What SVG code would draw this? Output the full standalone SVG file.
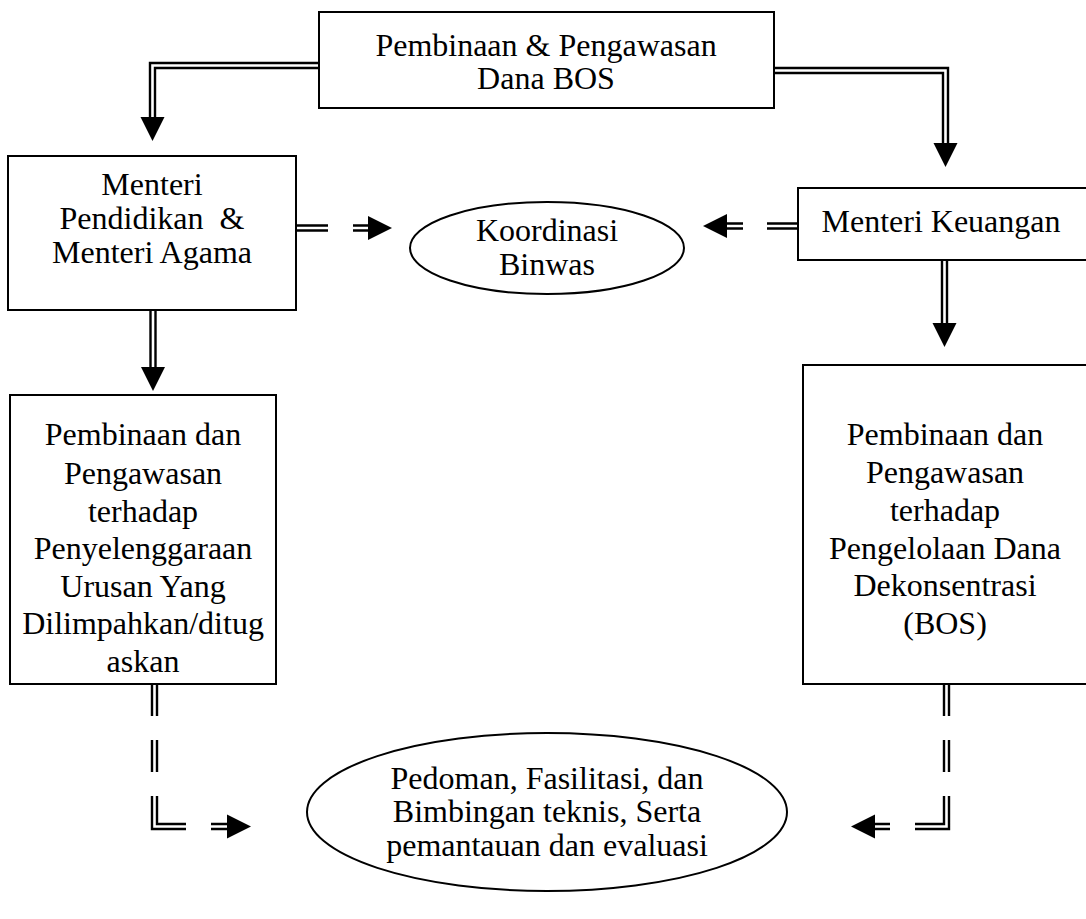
<svg xmlns="http://www.w3.org/2000/svg" width="1086" height="919" viewBox="0 0 1086 919">
<style>
.box{fill:#fff;stroke:#000;stroke-width:2}
.t{font-family:"Liberation Serif","Times New Roman",serif;font-size:32px;fill:#000;text-anchor:middle}
.ln{stroke:#000;stroke-width:2.4;fill:none}
.ah{fill:#000}
</style>
<defs>
<path id="ad" d="M-12,0 L12,0 L0,24 Z"/>
</defs>
<rect width="1086" height="919" fill="#fff"/>
<g id="connectors">
  <path class="ln" d="M319,63 H150 V118"/>
  <path class="ln" d="M319,68 H155 V118"/>
  <use href="#ad" class="ah" transform="translate(152.5,117)"/>
  <path class="ln" d="M774,68 H948 V144"/>
  <path class="ln" d="M774,73 H943 V144"/>
  <use href="#ad" class="ah" transform="translate(945.5,143)"/>
  <path class="ln" d="M296,225.5 H328 M296,230.5 H328 M353,225.5 H369 M353,230.5 H369"/>
  <use href="#ad" class="ah" transform="translate(368,228) rotate(-90)"/>
  <path class="ln" d="M798,223.5 H767 M798,228.5 H767 M743,223.5 H726 M743,228.5 H726"/>
  <use href="#ad" class="ah" transform="translate(727,226) rotate(90)"/>
  <path class="ln" d="M150.5,310 V368 M155.5,310 V368"/>
  <use href="#ad" class="ah" transform="translate(153,367)"/>
  <path class="ln" d="M942,260 V324 M947,260 V324"/>
  <use href="#ad" class="ah" transform="translate(944.5,323)"/>
  <path class="ln" d="M152,684 V716 M157,684 V716 M152,740 V772 M157,740 V772 M152,796 V829 H186 M157,796 V824 H186 M211,824 H228 M211,829 H228"/>
  <use href="#ad" class="ah" transform="translate(227,826.5) rotate(-90)"/>
  <path class="ln" d="M944,684 V716 M949,684 V716 M944,740 V772 M949,740 V772 M949,796 V829 H915 M944,796 V824 H915 M890,824 H874 M890,829 H874"/>
  <use href="#ad" class="ah" transform="translate(875,826.5) rotate(90)"/>
</g>
<g id="n-top">
  <rect class="box" x="319" y="12" width="455" height="96"/>
  <text class="t" x="546" y="56">Pembinaan &amp; Pengawasan</text>
  <text class="t" x="546" y="89">Dana BOS</text>
</g>
<g id="n-menteri-pendidikan">
  <rect class="box" x="8" y="156" width="288" height="154"/>
  <text class="t" x="152" y="195">Menteri</text>
  <text class="t" x="152" y="229" xml:space="preserve">Pendidikan  &amp;</text>
  <text class="t" x="152" y="263">Menteri Agama</text>
</g>
<g id="n-koordinasi">
  <ellipse class="box" cx="547" cy="248" rx="137" ry="46"/>
  <text class="t" x="547" y="241">Koordinasi</text>
  <text class="t" x="547" y="275">Binwas</text>
</g>
<g id="n-keuangan">
  <rect class="box" x="798" y="188" width="292" height="72"/>
  <text class="t" x="941" y="232">Menteri Keuangan</text>
</g>
<g id="n-left-bottom">
  <rect class="box" x="10" y="395" width="266" height="289"/>
  <text class="t" x="143" y="445">Pembinaan dan</text>
  <text class="t" x="143" y="484">Pengawasan</text>
  <text class="t" x="143" y="522">terhadap</text>
  <text class="t" x="143" y="559">Penyelenggaraan</text>
  <text class="t" x="143" y="597">Urusan Yang</text>
  <text class="t" x="143" y="634">Dilimpahkan/ditug</text>
  <text class="t" x="143" y="672">askan</text>
</g>
<g id="n-right-bottom">
  <rect class="box" x="803" y="365" width="290" height="319"/>
  <text class="t" x="945" y="445">Pembinaan dan</text>
  <text class="t" x="945" y="483">Pengawasan</text>
  <text class="t" x="945" y="521">terhadap</text>
  <text class="t" x="945" y="559">Pengelolaan Dana</text>
  <text class="t" x="945" y="596">Dekonsentrasi</text>
  <text class="t" x="945" y="634">(BOS)</text>
</g>
<g id="n-pedoman">
  <ellipse class="box" cx="547" cy="812" rx="240" ry="79"/>
  <text class="t" x="547" y="789">Pedoman, Fasilitasi, dan</text>
  <text class="t" x="547" y="822">Bimbingan teknis, Serta</text>
  <text class="t" x="547" y="856">pemantauan dan evaluasi</text>
</g>
</svg>
